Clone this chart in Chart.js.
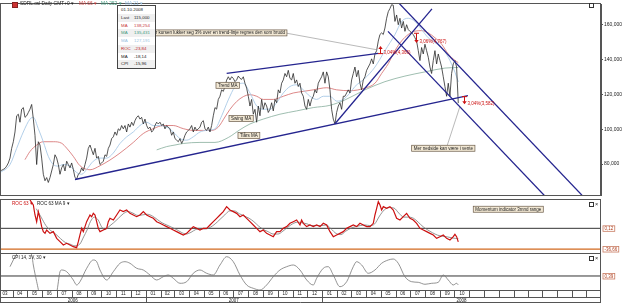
<!DOCTYPE html>
<html>
<head>
<meta charset="utf-8">
<script src="https://cdn.jsdelivr.net/npm/chart.js"></script>
<style>
  body { margin: 0; background: #fff; }
  #wrap { position: relative; width: 625px; height: 304px; overflow: hidden; font-family: "Liberation Sans", Arial, sans-serif; color: #222; }
  canvas { position: absolute; left: 0; }
  .t { position: absolute; white-space: nowrap; font-size: 4.8px; line-height: 6px; }
  #tip { position: absolute; left: 117px; top: 5px; width: 37px; height: 62px; border: 1px solid #444; background: #fff; font-size: 4.4px; }
  #tip div { position: relative; height: 7.75px; line-height: 7.75px; padding-left: 3px; }
  #tip div.g { background: #f0f0f0; }
  #tip span { position: absolute; left: 16px; }
  .sq { position: absolute; width: 3px; height: 3px; border: 1px solid #333; background: #fff; }
</style>
</head>
<body>
<div id="wrap">
  <canvas id="main" width="625" height="199" style="top:0"></canvas>
  <canvas id="roc" width="625" height="54" style="top:199px"></canvas>
  <canvas id="cpi" width="625" height="51" style="top:253px"></canvas>

  <div style="position:absolute;left:12px;top:2px;width:4px;height:4px;background:#c33;border:1px solid #822"></div>
  <div class="t" style="left:20px;top:1px">SDRL.osl Daily GMT+0 ▾</div>
  <div class="t" style="left:79px;top:1px;color:#c83c3c">MA 66 ▾</div>
  <div class="t" style="left:101px;top:1px;color:#3f9a7e">MA 252 ▾</div>
  <div class="t" style="left:125px;top:1px;color:#98bfe0">MA 21 ▾</div>
  <div class="sq" style="left:589px;top:3px"></div>

  <div id="tip">
    <div>01.10.2008</div>
    <div class="g">Last<span>115,000</span></div>
    <div style="color:#c83c3c">MA<span>138,254</span></div>
    <div class="g" style="color:#3f9a7e">MA<span>135,431</span></div>
    <div style="color:#98bfe0">MA<span>127,191</span></div>
    <div class="g" style="color:#c02828">ROC<span>-23,84</span></div>
    <div>MA<span>-18,14</span></div>
    <div class="g">CPI<span>-15,96</span></div>
  </div>

  <div class="t" style="left:12px;top:201px;font-size:4.6px;color:#cc1010">ROC 63 ▾</div>
  <div class="t" style="left:37px;top:201px;font-size:4.6px">ROC 63 MA 9 ▾</div>
  <div class="sq" style="left:589px;top:202px"></div>
  <div class="t" style="left:595px;top:200.5px;font-size:5.5px">×</div>

  <div class="t" style="left:12px;top:255px;font-size:4.6px">CPI 14, 3V, 30 ▾</div>
  <div class="sq" style="left:589px;top:256px"></div>
  <div class="t" style="left:595px;top:254.5px;font-size:5.5px">×</div>
</div>

<script>
const family = '"Liberation Sans", Arial, sans-serif';
Chart.defaults.font.family = family;

// x values are days counted from 1 March 2006
const xMin = 5, xMax = 1248;

// daily close sampled evenly between these two days
const priceFirstDay = 5, priceLastDay = 952.8;
const price = [
  76.0, 76.4, 76.9, 77.5, 78.8, 80.6, 83.4, 89.0, 92.8, 98.4,
  107.7, 108.6, 104.0, 111.5, 112.4, 106.8, 107.7, 109.6, 111.5, 114.2,
  105.8, 96.5, 79.7, 92.8, 90.9, 83.4, 74.1, 70.4, 72.2, 69.4,
  72.2, 76.0, 79.7, 85.3, 83.4, 79.7, 74.1, 77.8, 79.7, 76.0,
  81.6, 79.7, 77.8, 80.6, 76.9, 72.2, 71.3, 74.1, 75.0, 77.8,
  76.0, 79.7, 83.4, 89.0, 90.9, 88.1, 85.3, 89.0, 83.4, 84.4,
  79.7, 80.6, 81.6, 85.3, 84.4, 89.0, 90.9, 94.6, 95.6, 98.4,
  96.5, 100.2, 99.3, 102.1, 100.2, 102.1, 98.4, 103.0, 101.2, 104.0,
  102.1, 104.9, 106.8, 107.7, 105.8, 106.8, 103.0, 105.8, 102.1, 100.2,
  101.2, 98.4, 99.3, 102.1, 104.0, 103.0, 104.0, 102.1, 103.0, 100.2,
  102.1, 101.2, 100.2, 96.5, 98.4, 94.6, 93.7, 92.8, 94.6, 91.8,
  93.7, 96.5, 98.4, 99.3, 100.2, 102.1, 98.4, 101.2, 99.3, 100.2,
  101.2, 104.0, 104.9, 100.2, 99.3, 101.2, 98.4, 102.1, 107.7, 112.4,
  111.5, 117.1, 118.9, 122.6, 121.7, 124.5, 128.2, 130.1, 128.3, 130.1,
  129.2, 127.3, 128.3, 130.5, 129.2, 128.6, 130.1, 126.4, 123.6, 118.9,
  113.3, 117.1, 108.6, 111.4, 104.0, 113.3, 107.7, 117.1, 111.4, 115.2,
  113.3, 109.6, 111.4, 115.2, 110.5, 117.1, 115.2, 122.6, 120.8, 126.4,
  128.3, 132.0, 130.1, 133.8, 129.2, 128.3, 132.0, 126.4, 128.3, 124.5,
  126.4, 120.8, 118.9, 113.3, 111.4, 117.1, 113.3, 117.1, 118.9, 122.6,
  120.8, 126.4, 128.3, 130.1, 132.9, 126.4, 132.9, 130.1, 122.6, 111.4,
  105.8, 103.0, 109.6, 113.3, 115.2, 111.4, 118.9, 118.9, 120.8, 122.6,
  120.8, 128.3, 132.0, 135.7, 130.1, 133.8, 126.4, 122.6, 128.3, 130.1,
  133.8, 135.7, 137.5, 140.4, 137.5, 143.2, 145.1, 150.6, 154.4, 155.3,
  154.4, 158.1, 163.7, 167.5, 169.3, 171.5, 171.2, 161.9, 165.6, 160.0,
  163.7, 158.1, 161.9, 156.2, 160.0, 157.2, 156.2, 155.3, 154.4, 152.5,
  150.6, 145.1, 139.4, 146.9, 143.2, 148.8, 145.1, 141.3, 135.7, 132.0,
  139.4, 145.1, 137.5, 143.2, 139.4, 135.7, 130.1, 124.5, 118.9, 126.4,
  118.9, 132.0, 137.5, 139.4, 135.7, 115.0
];

// [day, value]
const ma21 = [
  [5, 75.0], [25.7, 79.7], [39.5, 89.0], [53.2, 98.4], [67.0, 105.8], [73.9, 106.8], [84.2, 100.3], [94.5, 92.8], [104.9, 84.4], [115.2, 79.7],
  [125.6, 78.8], [135.9, 79.7], [149.8, 78.8], [163.6, 75.1], [174.0, 74.1], [184.3, 76.9], [197.9, 81.6], [211.8, 83.4], [225.7, 83.4], [239.3, 86.3],
  [253.2, 91.8], [267.0, 95.6], [280.7, 98.4], [294.5, 102.1], [308.4, 104.0], [322.0, 102.1], [335.9, 102.1], [349.7, 101.2], [363.4, 98.4], [377.2, 94.6],
  [391.1, 93.7], [404.7, 95.6], [418.6, 98.4], [432.4, 99.3], [449.6, 100.2], [463.5, 107.7], [477.1, 116.8], [491.0, 124.3], [508.2, 126.4], [522.0, 120.8],
  [535.9, 113.3], [549.5, 111.5], [563.4, 111.5], [577.2, 115.2], [590.9, 120.8], [604.7, 124.5], [618.6, 125.5], [632.2, 122.6], [646.1, 118.9], [659.9, 117.1],
  [673.6, 118.9], [687.4, 118.9], [701.3, 116.1], [714.9, 117.1], [728.8, 120.8], [739.1, 124.5], [759.8, 129.2], [780.5, 135.7], [801.2, 145.1], [821.9, 154.4],
  [835.7, 161.9], [849.4, 163.7], [863.2, 161.9], [877.1, 157.2], [890.7, 152.5], [904.6, 149.7], [918.4, 146.9], [932.1, 141.3], [946.0, 132.7], [952.8, 127.19]
];
const ma66 = [
  [56.7, 82.5], [67.0, 87.2], [80.9, 90.9], [94.5, 92.8], [115.2, 92.8], [132.6, 91.9], [142.9, 89.1], [156.6, 84.4], [170.4, 79.0], [191.1, 76.7],
  [211.8, 79.0], [232.5, 82.3], [253.2, 86.3], [280.7, 92.4], [301.3, 97.5], [322.0, 100.3], [342.7, 102.1], [363.4, 102.1], [384.1, 100.3], [404.7, 99.3],
  [425.4, 99.3], [442.8, 99.3], [456.4, 101.2], [470.3, 107.0], [480.6, 111.4], [494.5, 115.9], [508.2, 118.7], [522.0, 119.8], [535.9, 118.9], [549.5, 117.1],
  [570.2, 117.1], [590.9, 118.9], [611.6, 120.8], [632.2, 121.7], [652.9, 122.6], [680.6, 123.8], [701.3, 122.6], [728.8, 122.1], [759.8, 123.6], [780.5, 126.4],
  [794.3, 132.0], [808.0, 137.6], [821.9, 145.1], [835.7, 150.7], [849.4, 154.4], [863.2, 156.3], [877.1, 156.6], [890.7, 155.3], [904.6, 152.5], [918.4, 148.8],
  [932.1, 143.2], [946.0, 139.5], [952.8, 138.25]
];
const ma252 = [
  [329.0, 88.1], [349.7, 90.0], [366.9, 90.9], [384.1, 91.8], [418.6, 92.4], [449.6, 92.4], [477.1, 95.2], [501.3, 99.7], [522.0, 103.0], [549.5, 105.8],
  [584.0, 108.6], [618.6, 110.5], [652.9, 112.4], [687.4, 113.7], [718.5, 116.8], [759.8, 122.6], [801.2, 127.3], [842.5, 130.5], [883.9, 132.9], [925.3, 135.1],
  [952.8, 135.43]
];

// drawn trend lines, [day, price] end points
const trendLines = [
  [[160.1, 71.1], [972.8, 119.3]],
  [[473.8, 132.0], [787.3, 143.6]],
  [[697.8, 103.1], [898.4, 169.1]],
  [[807.4, 156.2], [1132, 61.6]],
  [[828, 173], [1208.6, 62.1]]
];
const leaders = [
  [[598.5, 155.1], [784.6, 145.6]],
  [[929.4, 90.2], [956.3, 113.1]]
];
const markers = [
  { day: 790.8, from: 143.4, to: 147.8, text: '3,04%(4,366)' },
  { day: 865.3, from: 155.1, to: 149.5, text: '3,06%(4,767)' },
  { day: 964.6, from: 118.7, to: 114.3, text: '3,04%(3,582)' }
];
const notes = [
  { day: 598.5, val: 155.3, right: true, text: 'Når kursen lukker seg 3% over en trend-linje regnes den som brudd' },
  { day: 451.7, val: 125.2, text: 'Trend MA' },
  { day: 478.6, val: 106.1, text: 'Swing MA' },
  { day: 497.2, val: 96.3, text: 'Tiårs MA' },
  { day: 856.4, val: 89.05, text: 'Mer nedside kan være i vente' }
];
const priceTicks = [80, 100, 120, 140, 160];

const roc = [
  [67.0, 50.4], [73.9, 41.5], [77.4, 23.8], [80.8, 11.9], [84.3, 29.7], [87.7, 17.9], [91.2, 3.1], [94.6, -5.8], [98.1, -8.8], [101.5, -2.9],
  [108.4, -8.8], [115.3, -5.8], [122.2, -17.7], [129.1, -23.6], [136.0, -29.5], [142.9, -26.5], [149.8, -29.5], [156.6, -32.5], [163.5, -34.2], [167.0, -23.6],
  [170.4, -11.7], [173.9, 0.1], [177.3, -5.8], [180.8, 3.1], [184.2, 11.9], [187.7, 17.9], [191.1, 23.8], [194.6, 20.8], [198.0, 26.7], [201.5, 23.8],
  [204.9, 11.9], [208.3, 0.1], [211.8, -5.8], [218.7, -2.9], [225.6, 0.1], [229.0, 11.9], [232.5, 17.9], [239.4, 14.9], [246.3, 23.8], [253.1, 32.7],
  [260.0, 29.7], [266.9, 32.7], [273.8, 26.7], [280.7, 23.8], [287.6, 20.8], [294.5, 23.8], [301.4, 29.7], [308.3, 23.8], [315.2, 20.8], [322.1, 17.9],
  [329.0, 11.9], [335.9, 9.0], [342.8, 6.0], [349.7, 3.1], [356.5, 0.1], [363.4, -2.9], [370.3, -5.8], [377.2, -8.8], [384.1, -11.7], [391.0, -8.8],
  [397.9, -2.9], [404.8, 3.1], [411.7, 0.1], [418.6, -2.9], [425.5, 0.1], [432.4, 0.1], [439.3, 6.0], [446.2, 11.9], [453.0, 17.9], [459.9, 23.8],
  [466.8, 29.7], [473.7, 38.6], [480.6, 32.7], [487.5, 29.7], [494.4, 26.7], [501.3, 20.8], [508.2, 23.8], [515.1, 17.9], [522.0, 11.9], [528.9, 6.0],
  [535.8, 0.1], [542.7, -5.8], [549.5, -2.9], [556.4, -8.8], [563.3, -11.7], [570.2, -14.7], [577.1, -5.8], [584.0, -5.8], [590.9, 0.1], [597.8, 3.1],
  [604.7, 9.0], [611.6, 11.9], [618.5, 14.9], [625.4, 6.0], [628.8, 14.9], [632.3, 9.0], [639.2, 3.1], [646.0, 6.0], [653.0, 3.1], [659.9, 6.0],
  [666.8, 3.1], [673.7, 9.0], [680.6, 6.0], [687.5, -5.8], [694.4, -14.7], [701.2, -11.7], [708.1, -8.8], [715.0, -5.8], [721.9, 0.1], [728.8, 3.1],
  [735.7, 6.0], [742.6, 3.1], [749.5, 9.0], [756.4, 6.0], [763.3, 3.1], [770.2, 3.1], [777.1, 9.0], [780.5, 23.8], [784.0, 35.6], [787.4, 47.5],
  [790.9, 41.5], [794.3, 32.7], [797.8, 38.6], [804.6, 35.6], [811.5, 38.6], [818.4, 32.7], [825.3, 17.9], [832.2, 14.9], [839.1, 20.8], [846.0, 26.7],
  [852.9, 17.9], [859.8, 14.9], [866.7, 9.0], [873.6, 0.1], [880.5, -2.9], [887.4, -5.8], [894.3, -8.8], [901.1, -11.7], [908.0, -17.7], [914.9, -14.7],
  [921.8, -11.7], [928.7, -17.7], [935.6, -20.6], [942.5, -14.7], [945.9, -10.6], [949.4, -14.7], [952.8, -23.84]
];
const rocMa = [
  [80, 35], [90, 20], [100, 5], [110, -4], [120, -10], [130, -18], [140, -25], [150, -28], [160, -31], [170, -28],
  [178, -15], [185, -3], [192, 12], [200, 20], [208, 15], [215, 3], [222, -2], [230, 3], [240, 10], [250, 18],
  [260, 26], [270, 30], [280, 27], [290, 23], [300, 24], [310, 25], [320, 22], [330, 16], [340, 10], [350, 6],
  [360, 2], [370, -2], [380, -7], [390, -10], [400, -7], [410, -2], [420, -1], [430, -1], [440, 2], [450, 8],
  [460, 16], [470, 24], [480, 31], [490, 31], [500, 26], [510, 22], [520, 18], [530, 12], [540, 4], [550, -2],
  [560, -6], [570, -10], [580, -10], [590, -5], [600, 2], [610, 8], [620, 11], [630, 10], [640, 8], [650, 5],
  [660, 5], [670, 5], [680, 6], [690, -1], [700, -9], [710, -11], [720, -5], [730, 0], [740, 3], [750, 5],
  [760, 6], [770, 5], [780, 8], [790, 22], [800, 33], [810, 37], [820, 36], [830, 27], [840, 20], [850, 20],
  [860, 18], [870, 11], [880, 3], [890, -3], [900, -8], [910, -12], [920, -14], [930, -15], [940, -17], [952.8, -18.14]
];
const rocLevels = [0.12, -36.66];
const rocNote = { day: 983.8, val: 34.0, text: 'Momentum indicator 3mnd range' };

const cpi = [
  [25.7, 17.3], [32.5, 29.5], [36.0, 35.5], [52.6, 50], [70.6, 38.6], [73.9, 20.4], [80.9, -10.0], [87.7, -34.2], [104.3, -43], [122.3, -28.2],
  [129.1, 8.2], [132.6, 11.3], [142.9, 8.2], [156.6, -6.9], [163.6, -16.0], [170.4, -10.0], [184.3, 14.4], [197.9, 29.5], [205.0, 26.4], [211.8, 11.3],
  [225.7, -6.9], [239.3, 8.2], [253.2, 23.5], [263.5, 26.4], [273.8, 23.5], [287.7, 14.4], [301.3, 11.3], [315.2, 2.2], [329.0, -6.9], [342.7, -0.9],
  [353.0, 2.2], [363.4, -3.8], [377.2, -12.9], [391.1, -10.0], [404.7, 5.3], [418.6, 11.3], [432.4, 5.3], [446.1, 2.2], [460.0, 20.4], [473.8, 35.5],
  [487.5, 26.4], [501.3, 2.2], [515.2, -16.0], [528.8, -22.0], [542.7, -25.1], [556.5, -16.0], [570.2, -0.9], [584.0, 11.3], [597.9, 17.3], [611.6, 20.4],
  [625.4, 11.3], [639.3, -6.9], [652.9, -16.0], [659.9, -3.8], [673.6, 14.4], [684.0, 17.3], [694.3, 2.2], [708.1, -19.1], [722.0, -10.0], [735.6, 17.3],
  [742.6, 26.4], [753.0, 20.4], [766.6, 5.3], [780.5, 11.3], [794.3, 23.5], [808.0, 29.5], [818.3, 31.3], [828.7, 23.5], [842.5, -0.9], [856.4, -10.0],
  [870.0, -11.1], [883.9, -14.7], [897.8, -12.9], [911.4, -11.1], [921.8, 2.2], [932.1, -6.9], [942.4, -16.0], [949.5, -12.9], [952.8, -15.96]
];
const cpiLevels = [0.39];

const monthLabels = ['03', '04', '05', '06', '07', '08', '09', '10', '11', '12',
  '01', '02', '03', '04', '05', '06', '07', '08', '09', '10', '11', '12',
  '01', '02', '03', '04', '05', '06', '07', '08', '09', '10'];
const yearLabels = ['2006', '2007', '2008'];
const yearFirstMonth = [0, 10, 22];

// helpers
const xy = arr => arr.map(([x, y]) => ({ x, y }));
const level = v => [{ x: xMin, y: v }, { x: xMax, y: v }];
const monthStart = k => (Date.UTC(2006, 2 + k, 1) - Date.UTC(2006, 2, 1)) / 864e5;
const priceStep = (priceLastDay - priceFirstDay) / (price.length - 1);

function drawNote(ctx, px, py, text, right) {
  ctx.font = '4.5px ' + family;
  const w = ctx.measureText(text).width + 4, h = 6;
  const left = right ? px - w : px;
  ctx.fillStyle = '#f2e8d4';
  ctx.fillRect(left, py - h / 2, w, h);
  ctx.strokeStyle = '#6a5a48';
  ctx.lineWidth = 0.7;
  ctx.strokeRect(left, py - h / 2, w, h);
  ctx.fillStyle = '#222';
  ctx.textAlign = 'left';
  ctx.textBaseline = 'middle';
  ctx.fillText(text, left + 2, py + 0.3);
}

function levelBox(ctx, x, py, text) {
  ctx.font = '4.5px ' + family;
  const w = ctx.measureText(text).width + 3;
  ctx.fillStyle = '#fff';
  ctx.fillRect(x, py - 3, w, 6);
  ctx.strokeStyle = '#c87a60';
  ctx.lineWidth = 0.8;
  ctx.strokeRect(x + 0.5, py - 2.5, w, 5.5);
  ctx.fillStyle = '#b04020';
  ctx.textAlign = 'left';
  ctx.textBaseline = 'middle';
  ctx.fillText(text, x + 2, py + 0.3);
}

const framePlugin = {
  id: 'frame',
  afterDraw(chart) {
    const { ctx, chartArea: a } = chart;
    ctx.save();
    ctx.strokeStyle = '#555';
    ctx.lineWidth = 1;
    ctx.strokeRect(Math.round(a.left) + 0.5, Math.round(a.top) - 0.5, Math.round(a.right - a.left) - 1, Math.round(a.bottom - a.top) + 1);
    ctx.restore();
  }
};

const mainNotes = {
  id: 'mainNotes',
  afterDatasetsDraw(chart) {
    const { ctx, chartArea: a, scales: { x, y } } = chart;
    ctx.save();
    ctx.beginPath();
    ctx.rect(a.left, a.top, a.right - a.left, a.bottom - a.top);
    ctx.clip();
    notes.forEach(n => drawNote(ctx, x.getPixelForValue(n.day), y.getPixelForValue(n.val), n.text, n.right));
    markers.forEach(m => {
      const px = Math.round(x.getPixelForValue(m.day)) + 0.5;
      const p0 = y.getPixelForValue(m.from), p1 = y.getPixelForValue(m.to);
      const dir = p1 < p0 ? -1 : 1;
      ctx.strokeStyle = '#cc1010';
      ctx.fillStyle = '#cc1010';
      ctx.lineWidth = 1;
      ctx.beginPath();
      ctx.moveTo(px - 2.5, p0); ctx.lineTo(px + 2.5, p0);
      ctx.moveTo(px, p0); ctx.lineTo(px, p1 - dir * 2.5);
      ctx.stroke();
      ctx.beginPath();
      ctx.moveTo(px - 2.2, p1 - dir * 3); ctx.lineTo(px + 2.2, p1 - dir * 3); ctx.lineTo(px, p1);
      ctx.closePath();
      ctx.fill();
      ctx.font = '4.5px ' + family;
      ctx.textAlign = 'left';
      ctx.textBaseline = 'middle';
      ctx.fillText(m.text, px + 3, Math.max(p0, p1) - 1);
    });
    ctx.restore();
  }
};

const rocNotes = {
  id: 'rocNotes',
  afterDraw(chart) {
    const { ctx, chartArea: a, scales: { x, y } } = chart;
    ctx.save();
    drawNote(ctx, x.getPixelForValue(rocNote.day), y.getPixelForValue(rocNote.val), rocNote.text, false);
    rocLevels.forEach(v => levelBox(ctx, a.right + 1.5, y.getPixelForValue(v), v.toFixed(2).replace('.', ',')));
    ctx.restore();
  }
};

const cpiAxis = {
  id: 'cpiAxis',
  afterDraw(chart) {
    const { ctx, chartArea: a, scales: { x, y } } = chart;
    ctx.save();
    cpiLevels.forEach(v => levelBox(ctx, a.right + 1.5, y.getPixelForValue(v), v.toFixed(2).replace('.', ',')));
    const top = Math.round(a.bottom) + 0.5, mid = top + 7, bot = chart.height - 1.5;
    ctx.strokeStyle = '#555';
    ctx.lineWidth = 1;
    ctx.beginPath();
    [mid, bot].forEach(yy => { ctx.moveTo(0, yy); ctx.lineTo(a.right, yy); });
    ctx.moveTo(a.right - 0.5, top); ctx.lineTo(a.right - 0.5, bot);
    ctx.moveTo(0.5, top); ctx.lineTo(0.5, bot);
    ctx.font = '4.5px ' + family;
    ctx.fillStyle = '#222';
    ctx.textAlign = 'center';
    ctx.textBaseline = 'middle';
    for (let k = 0; k < 44; k++) {
      const p0 = x.getPixelForValue(monthStart(k)), p1 = x.getPixelForValue(monthStart(k + 1));
      if (p0 > a.right) break;
      if (p0 > a.left + 1) {
        const px = Math.round(p0) + 0.5;
        ctx.moveTo(px, top); ctx.lineTo(px, mid);
      }
      if (k < monthLabels.length) ctx.fillText(monthLabels[k], (p0 + p1) / 2, top + 3.7);
    }
    yearLabels.forEach((label, i) => {
      const p0 = Math.max(a.left, x.getPixelForValue(monthStart(yearFirstMonth[i])));
      const p1 = i + 1 < yearFirstMonth.length ? x.getPixelForValue(monthStart(yearFirstMonth[i + 1])) : a.right;
      if (i > 0) { ctx.moveTo(Math.round(p0) + 0.5, mid); ctx.lineTo(Math.round(p0) + 0.5, bot); }
      ctx.fillText(label, (p0 + p1) / 2, mid + 3.2);
    });
    ctx.stroke();
    ctx.restore();
  }
};

const baseOptions = (padding, y) => ({
  responsive: false,
  animation: false,
  events: [],
  layout: { padding },
  elements: { point: { radius: 0 }, line: { tension: 0 } },
  plugins: { legend: { display: false }, tooltip: { enabled: false } },
  scales: { x: { type: 'linear', min: xMin, max: xMax, display: false }, y }
});

new Chart(document.getElementById('main'), {
  type: 'line',
  data: {
    datasets: [
      ...trendLines.map(l => ({ data: xy(l), borderColor: '#25258f', borderWidth: 1.3, order: 0 })),
      ...leaders.map(l => ({ data: xy(l), borderColor: '#8a8a8a', borderWidth: 0.6, order: 0 })),
      { data: price.map((v, i) => ({ x: priceFirstDay + i * priceStep, y: v })), borderColor: '#2a2a2a', borderWidth: 0.8, order: 1 },
      { data: xy(ma21), borderColor: '#a9c9e6', borderWidth: 0.9, cubicInterpolationMode: 'monotone', order: 2 },
      { data: xy(ma66), borderColor: '#d46a6a', borderWidth: 0.8, cubicInterpolationMode: 'monotone', order: 3 },
      { data: xy(ma252), borderColor: '#86ad9c', borderWidth: 0.8, cubicInterpolationMode: 'monotone', order: 4 }
    ]
  },
  options: baseOptions({ top: 2, bottom: 1, left: 0, right: 0 }, {
    position: 'right', min: 62.2, max: 171.9,
    afterBuildTicks: s => { s.ticks = priceTicks.map(value => ({ value })); },
    afterFit: s => { s.width = 24; },
    ticks: { font: { size: 5, family }, color: '#222', padding: 1, callback: v => v.toFixed(3).replace('.', ',') },
    grid: { drawOnChartArea: false, tickLength: 2, color: '#555' },
    border: { color: '#555' }
  }),
  plugins: [framePlugin, mainNotes]
});

new Chart(document.getElementById('roc'), {
  type: 'line',
  data: {
    datasets: [
      { data: xy(roc), borderColor: '#cc1010', borderWidth: 1.2, order: 0 },
      { data: xy(rocMa), borderColor: '#7a7a7a', borderWidth: 0.8, cubicInterpolationMode: 'monotone', order: 1 },
      { data: level(rocLevels[0]), borderColor: '#333', borderWidth: 1, order: 2 },
      { data: level(rocLevels[1]), borderColor: '#d2691e', borderWidth: 1.3, order: 2 }
    ]
  },
  options: baseOptions({ top: 1, bottom: 0, left: 0, right: 24 }, { min: -43.7, max: 50.4, display: false }),
  plugins: [framePlugin, rocNotes]
});

new Chart(document.getElementById('cpi'), {
  type: 'line',
  data: {
    datasets: [
      { data: xy(cpi), borderColor: '#777', borderWidth: 0.8, cubicInterpolationMode: 'monotone', order: 0 },
      { data: level(cpiLevels[0]), borderColor: '#333', borderWidth: 1, order: 1 }
    ]
  },
  options: baseOptions({ top: 1, bottom: 14, left: 0, right: 24 }, { min: -25.1, max: 40.4, display: false }),
  plugins: [framePlugin, cpiAxis]
});
</script>
</body>
</html>
